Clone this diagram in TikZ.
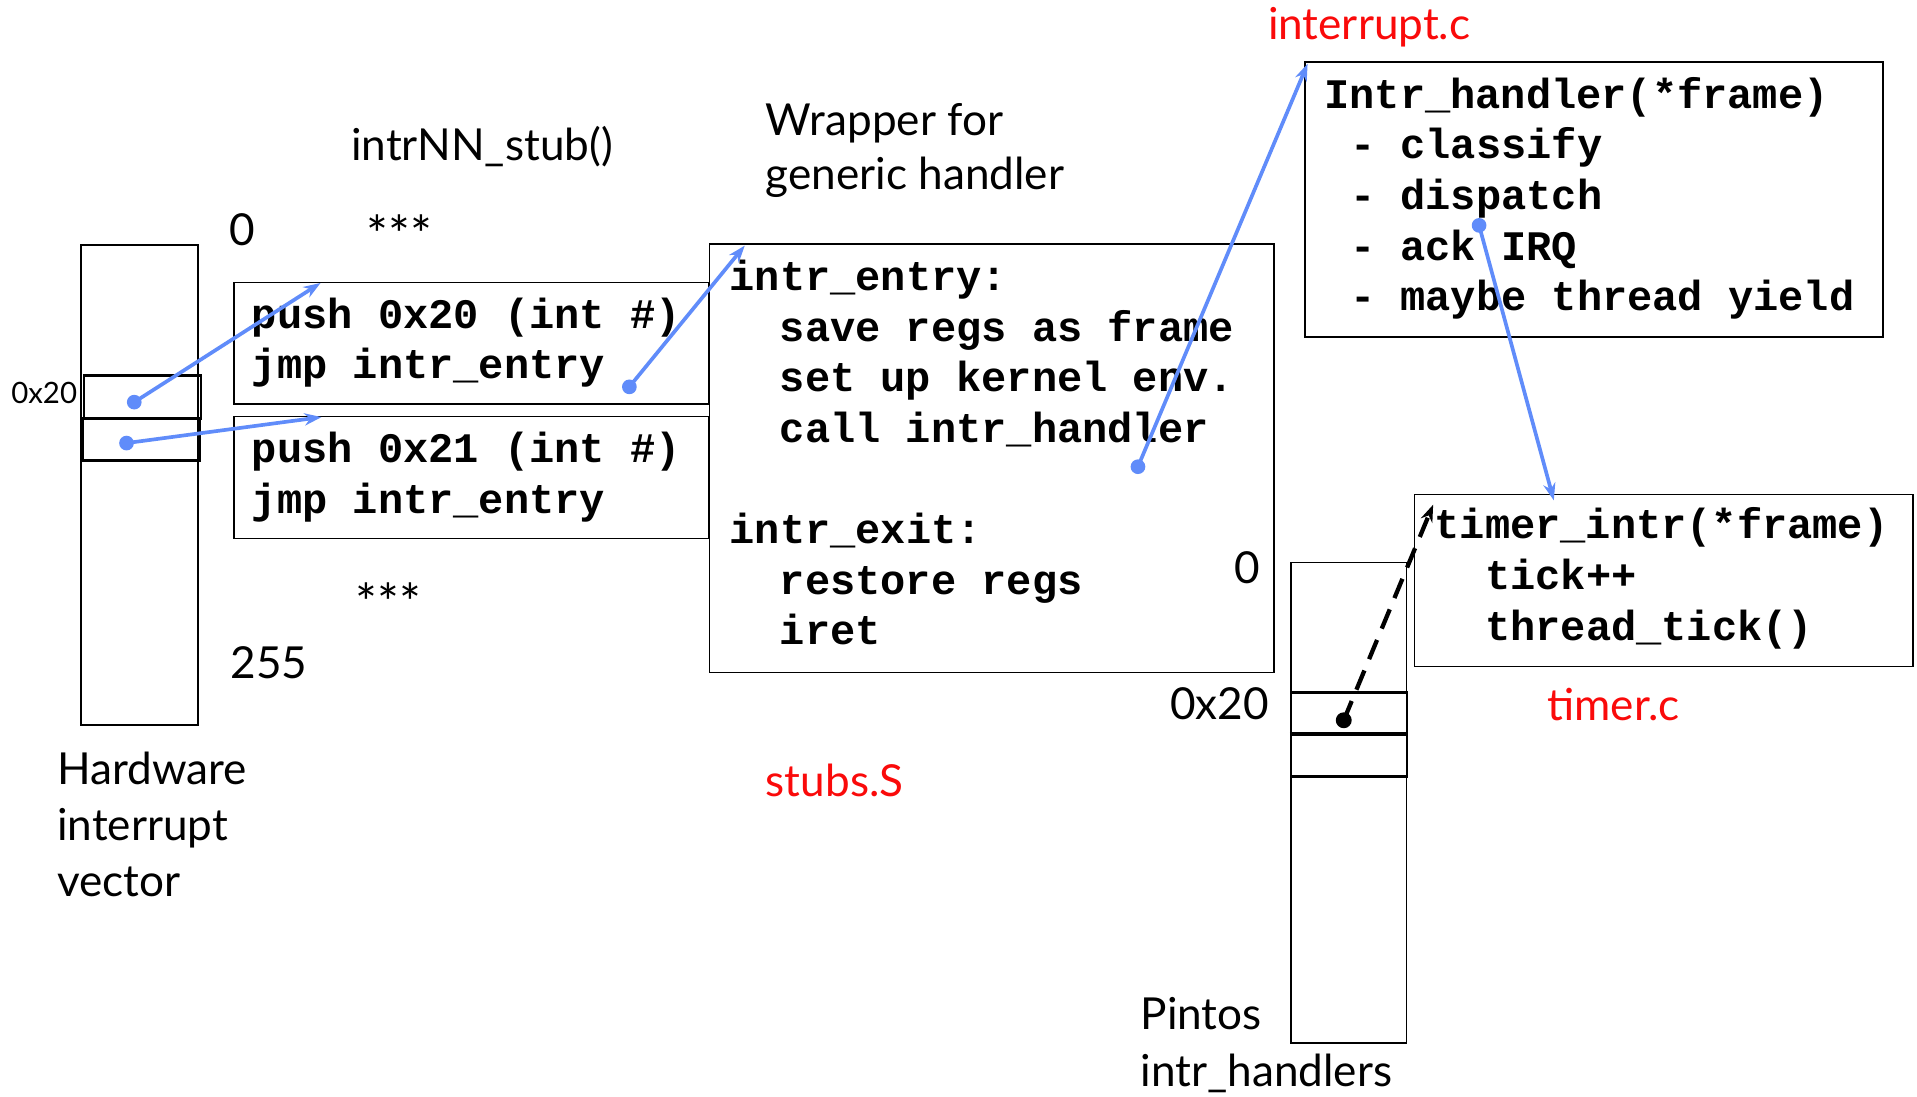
\documentclass[tikz,border=0pt]{standalone}
\usepackage{fontspec}
\setmainfont{Lato}
\newfontfamily\codefont{Liberation Mono}
\usetikzlibrary{arrows.meta}
\definecolor{arrowblue}{RGB}{96,140,250}
\definecolor{srcred}{RGB}{250,10,10}
\tikzset{
  code/.style={anchor=base west, inner sep=0pt, font=\codefont\bfseries\fontsize{34.3}{41.3}\selectfont},
  lbl/.style={anchor=base west, inner sep=0pt, font=\fontsize{36}{42}\selectfont},
  starlbl/.style={anchor=base west, inner sep=0pt, font=\fontsize{42}{48}\selectfont},
  smalllbl/.style={anchor=base west, inner sep=0pt, font=\fontsize{24}{28}\selectfont},
  redlbl/.style={lbl, text=srcred},
  boxnode/.style={draw, line width=1.5pt, anchor=north west, inner sep=0pt},
  slotnode/.style={draw, line width=2pt, anchor=north west, inner sep=0pt},
  bluearrow/.style={draw=arrowblue, line width=3pt, -{Stealth[length=14pt,width=10pt]}},
  blackarrow/.style={draw=black, line width=3.5pt, dash pattern=on 17pt off 10pt, -{Stealth[length=14pt,width=10pt]}},
}
\begin{document}
\begin{tikzpicture}[x=1pt,y=-1pt]
\useasboundingbox (0,0) rectangle (1565,894.75);
\fill[white] (0,0) rectangle (1565,894.75);

% hardware vector
\node[boxnode, minimum width=95.4pt, minimum height=392.2pt] (vec) at (65.4,199.2) {};
\node[slotnode, minimum width=95.8pt, minimum height=35pt] (slotA) at (67.5,305.5) {};
\node[slotnode, minimum width=95pt, minimum height=34.4pt] (slotB) at (66.7,340.5) {};
\node[smalllbl] (lab0x20a) at (9,329) {0x20};
\node[lbl] (lab0) at (187.5,200.5) {0};
\node[lbl] (lab255) at (188,553.5) {255};
\node[starlbl] (starsA) at (299,207) {***};
\node[starlbl] (starsB) at (290,507) {***};
\node[lbl] (hw1) at (46.5,640.5) {Hardware};
\node[lbl] (hw2) at (46.5,686) {interrupt};
\node[lbl] (hw3) at (46.5,732) {vector};

% stubs
\node[lbl] (stubtitle) at (286.5,131) {intrNN\_stub()};
\node[boxnode, minimum width=387.6pt, minimum height=99pt] (stubA) at (190.4,229.9) {};
\node[boxnode, minimum width=387.6pt, minimum height=99.7pt] (stubB) at (190.4,339.2) {};
\node[code] (sa1) at (205.5,268) {push 0x20 (int \#)};
\node[code] (sa2) at (205.5,309.3) {jmp intr\_entry};
\node[code] (sb1) at (205.5,377.5) {push 0x21 (int \#)};
\node[code] (sb2) at (205.5,418.8) {jmp intr\_entry};

% wrapper
\node[lbl] (wrap1) at (625,110.5) {Wrapper for};
\node[lbl] (wrap2) at (625,155) {generic handler};
\node[boxnode, minimum width=460.5pt, minimum height=349.6pt] (entry) at (578.5,198.7) {};
\node[code] (e1) at (595.5,237.3) {intr\_entry:};
\node[code] (e2) at (636.5,278.6) {save regs as frame};
\node[code] (e3) at (636.5,319.9) {set up kernel env.};
\node[code] (e4) at (636.5,361.2) {call intr\_handler};
\node[code] (e5) at (595.5,443.8) {intr\_exit:};
\node[code] (e6) at (636.5,485.1) {restore regs};
\node[code] (e7) at (636.5,526.4) {iret};
\node[redlbl] (stubsS) at (625,650) {stubs.S};

% interrupt.c
\node[redlbl] (intrc) at (1035,32.5) {interrupt.c};
\node[boxnode, minimum width=472pt, minimum height=224.3pt] (handler) at (1064.5,50) {};
\node[code] (h1) at (1081,88.4) {Intr\_handler(*frame)};
\node[code] (h2) at (1102,129.7) {- classify};
\node[code] (h3) at (1102,171) {- dispatch};
\node[code] (h4) at (1102,212.3) {- ack IRQ};
\node[code] (h5) at (1102,253.6) {- maybe thread yield};

% timer.c
\node[boxnode, minimum width=407pt, minimum height=140.3pt] (timer) at (1154,403) {};
\node[code] (t1) at (1171,440) {timer\_intr(*frame)};
\node[code] (t2) at (1212.3,481.3) {tick++};
\node[code] (t3) at (1212.3,522.6) {thread\_tick()};
\node[redlbl] (timerc) at (1263,588) {timer.c};

% pintos handlers
\node[lbl] (labP0) at (1007.5,476.5) {0};
\node[lbl] (labP20) at (955,587.5) {0x20};
\node[boxnode, minimum width=94.5pt, minimum height=392pt] (pvec) at (1053,458.5) {};
\node[slotnode, minimum width=94.5pt, minimum height=34.5pt] (pslotA) at (1053,564.5) {};
\node[slotnode, minimum width=94.5pt, minimum height=34pt] (pslotB) at (1053,599) {};
\draw[line width=3pt] (pslotB.north west) -- (pslotB.north east);
\node[lbl] (pin1) at (931,840.5) {Pintos};
\node[lbl] (pin2) at (931,887) {intr\_handlers};

% connector end points
\coordinate (d1) at (109.6,328.3);
\coordinate (t1tip) at (261.7,231);
\coordinate (d2) at (103.3,361.7);
\coordinate (t2tip) at (262.5,340.5);
\coordinate (d3) at (513.8,315.8);
\coordinate (t3tip) at (608,200.5);
\coordinate (d4) at (929,381);
\coordinate (t4tip) at (1067.5,52);
\coordinate (d5) at (1207.5,184);
\coordinate (t5tip) at (1268.5,408.5);
\coordinate (d6) at (1097,588);
\coordinate (t6tip) at (1170,412);

\draw[bluearrow] (d1) -- (t1tip);
\draw[bluearrow] (d2) -- (t2tip);
\draw[bluearrow] (d3) -- (t3tip);
\draw[bluearrow] (d4) -- (t4tip);
\draw[bluearrow] (d5) -- (t5tip);
\draw[blackarrow] (d6) -- (t6tip);
\foreach \d in {d1,d2,d3,d4,d5} \fill[arrowblue] (\d) circle (6pt);
\fill[black] (d6) circle (6.5pt);
\end{tikzpicture}
\end{document}
